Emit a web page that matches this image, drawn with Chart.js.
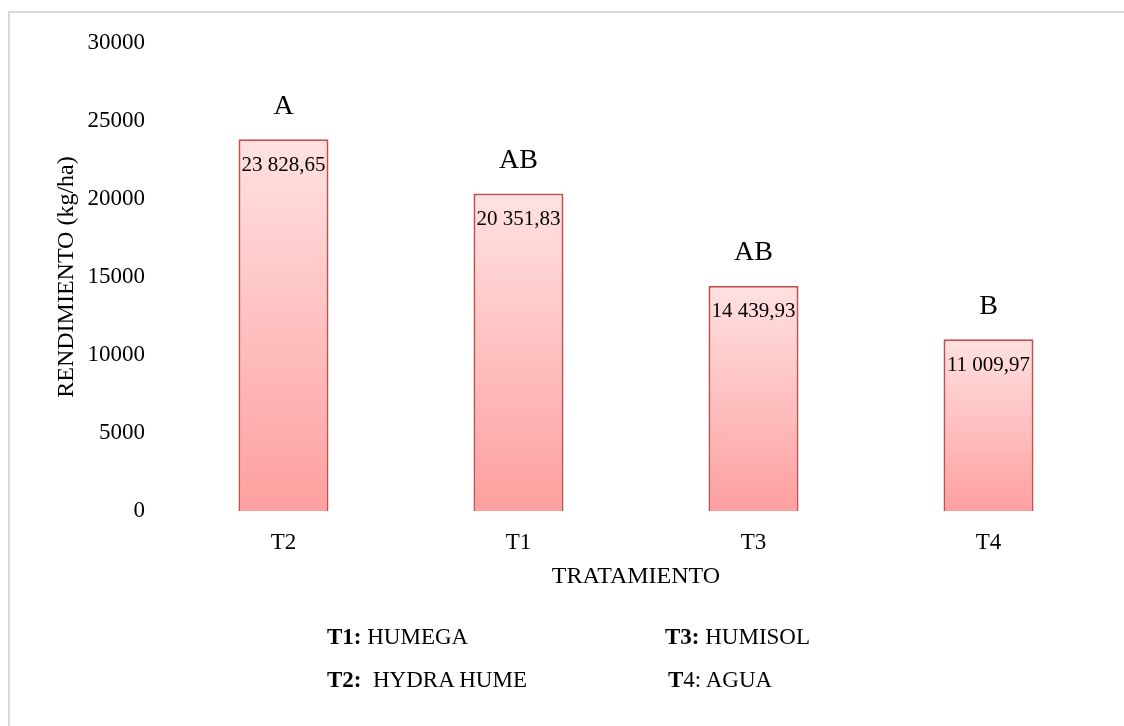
<!DOCTYPE html>
<html>
<head>
<meta charset="utf-8">
<script src="https://cdn.jsdelivr.net/npm/chart.js@4/dist/chart.umd.min.js"></script>
<style>
  body { margin: 0; background: #fff; overflow: hidden; }
  #marco { position: absolute; left: 8px; top: 11px; width: 1300px; height: 900px;
           border-left: 2px solid #d9d9d9; border-top: 2px solid #d9d9d9; }
  #caja { position: absolute; left: 0; top: 0; width: 1124px; height: 726px; }
  .leyenda { position: absolute; font-family: "Liberation Serif", serif; font-size: 23px;
             color: #000; white-space: pre; line-height: 24px; }
</style>
</head>
<body>
<div id="marco"></div>
<div id="caja"><canvas id="rendimientoChart"></canvas></div>
<div class="leyenda" style="left:327px;top:625px"><b>T1:</b> HUMEGA</div>
<div class="leyenda" style="left:665px;top:625px"><b>T3:</b> HUMISOL</div>
<div class="leyenda" style="left:327px;top:668px"><b>T2:</b>  HYDRA HUME</div>
<div class="leyenda" style="left:668px;top:668px"><b>T</b>4: AGUA</div>
<script>
// datos
const tratamientos = ["T2", "T1", "T3", "T4"];
const rendimiento = [23828.65, 20351.83, 14439.93, 11009.97];
const letras = ["A", "AB", "AB", "B"];
const ticksY = [0, 5000, 10000, 15000, 20000, 25000, 30000];

const fuente = "'Liberation Serif', serif";

function formato(v) {
  const partes = v.toFixed(2).split(".");
  return partes[0].replace(/\B(?=(\d{3})+(?!\d))/g, " ") + "," + partes[1];
}

// degradado por barra: claro arriba, salmon abajo
function degradado(context) {
  const chart = context.chart;
  const area = chart.chartArea;
  if (!area) return "#ffc0c0";
  const y = chart.scales.y;
  const arriba = y.getPixelForValue(context.raw);
  const abajo = y.getPixelForValue(0);
  const g = chart.ctx.createLinearGradient(0, arriba, 0, abajo);
  g.addColorStop(0, "#ffe1e1");
  g.addColorStop(1, "#ff9f9f");
  return g;
}

const etiquetas = {
  id: "etiquetas",
  afterDatasetsDraw(chart) {
    const ctx = chart.ctx;
    const meta = chart.getDatasetMeta(0);
    meta.data.forEach((barra, i) => {
      ctx.save();
      ctx.fillStyle = "#000";
      ctx.textAlign = "center";
      ctx.textBaseline = "middle";
      ctx.font = "21px " + fuente;
      ctx.fillText(formato(rendimiento[i]), barra.x, barra.y + 26);
      ctx.font = "28px " + fuente;
      ctx.fillText(letras[i], barra.x, barra.y - 33);
      ctx.restore();
    });
  },
};

const rendimientoChart = new Chart(document.getElementById("rendimientoChart"), {
  type: "bar",
  data: {
    labels: tratamientos,
    datasets: [
      {
        label: "Rendimiento",
        data: rendimiento,
        backgroundColor: degradado,
        borderColor: "#c0504d",
        borderWidth: 2,
        barPercentage: 0.383,
        categoryPercentage: 1,
      },
    ],
  },
  options: {
    responsive: true,
    maintainAspectRatio: false,
    animation: false,
    layout: { padding: { left: 50, right: 18, top: 43, bottom: 125 } },
    plugins: {
      legend: { display: false },
      tooltip: { enabled: false },
    },
    scales: {
      y: {
        min: 0,
        max: 30000,
        afterBuildTicks(scale) {
          scale.ticks = ticksY.map((v) => ({ value: v }));
        },
        afterFit(scale) {
          scale.width = 116;
        },
        grid: { display: false, drawTicks: false },
        border: { display: false },
        ticks: {
          color: "#000",
          padding: 21,
          font: { family: fuente, size: 23 },
          callback: (v) => String(v),
        },
        title: {
          display: true,
          text: "RENDIMIENTO (kg/ha)",
          color: "#000",
          font: { family: fuente, size: 24 },
          padding: { top: 2, bottom: 4 },
        },
      },
      x: {
        afterFit(scale) {
          scale.height = 90;
        },
        grid: { display: false, drawTicks: false },
        border: { display: false },
        ticks: {
          color: "#000",
          padding: 18,
          font: { family: fuente, size: 23 },
        },
        title: {
          display: true,
          text: "TRATAMIENTO",
          color: "#000",
          font: { family: fuente, size: 24 },
          padding: { top: 0, bottom: 10 },
        },
      },
    },
  },
  plugins: [etiquetas],
});
</script>
</body>
</html>
